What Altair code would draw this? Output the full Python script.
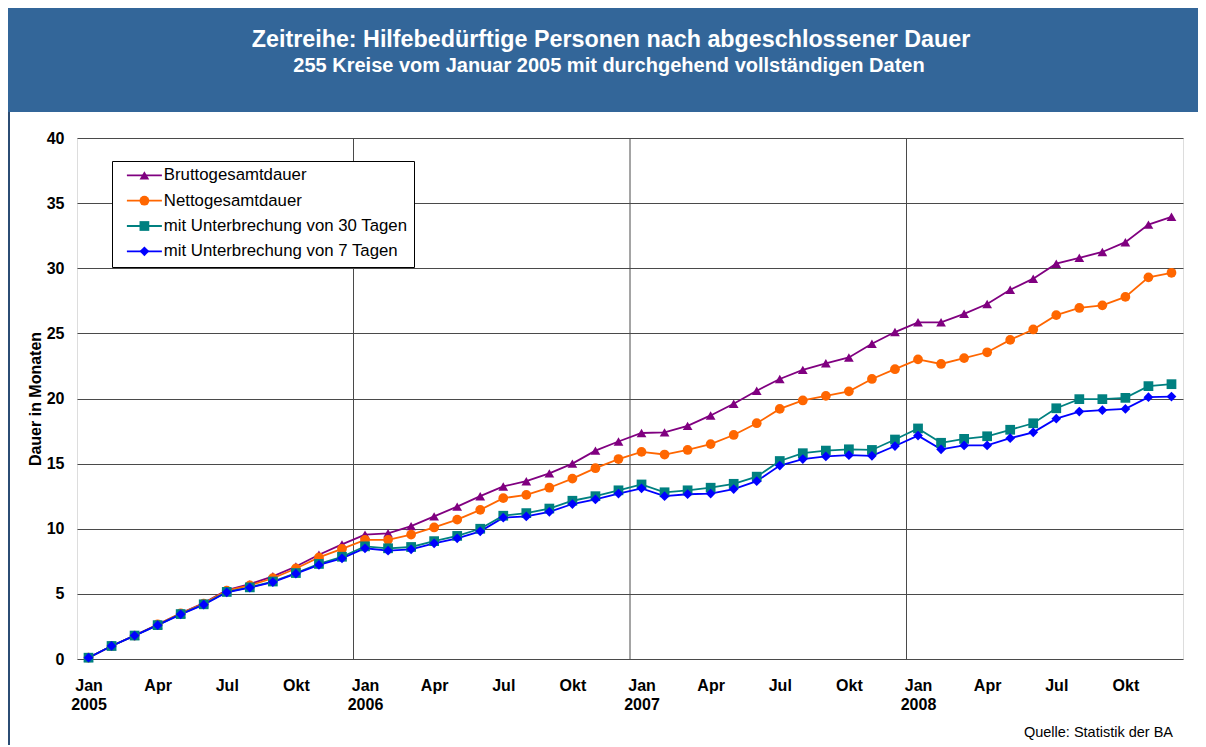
import json
import altair as alt
import pandas as pd

# ---------------- data ----------------
month_names = ["Jan", "Feb", "Mrz", "Apr", "Mai", "Jun", "Jul", "Aug", "Sep", "Okt", "Nov", "Dez"]
years = ["2005", "2006", "2007", "2008"]
series = [
    "Bruttogesamtdauer",
    "Nettogesamtdauer",
    "mit Unterbrechung von 30 Tagen",
    "mit Unterbrechung von 7 Tagen",
]
brutto = [0.1, 1.0, 1.8, 2.65, 3.5, 4.3, 5.3, 5.75, 6.35, 7.1, 8.0, 8.8,
          9.55, 9.65, 10.2, 10.95, 11.7, 12.5, 13.25, 13.65, 14.25, 15.0, 16.0, 16.7,
          17.35, 17.4, 17.9, 18.7, 19.6, 20.6, 21.5, 22.2, 22.7, 23.15, 24.2, 25.1,
          25.85, 25.85, 26.5, 27.25, 28.35, 29.2, 30.35, 30.8, 31.25, 32.0, 33.35, 33.95]
netto = [0.1, 1.0, 1.8, 2.65, 3.5, 4.25, 5.25, 5.65, 6.2, 6.95, 7.8, 8.45,
         9.15, 9.15, 9.55, 10.1, 10.7, 11.45, 12.35, 12.6, 13.15, 13.85, 14.65, 15.35,
         15.9, 15.7, 16.05, 16.5, 17.2, 18.1, 19.2, 19.85, 20.2, 20.55, 21.5, 22.25,
         23.0, 22.65, 23.1, 23.55, 24.5, 25.3, 26.4, 26.95, 27.15, 27.8, 29.3, 29.65]
unterbr30 = [0.1, 1.0, 1.8, 2.6, 3.45, 4.2, 5.15, 5.5, 5.95, 6.6, 7.3, 7.85,
             8.65, 8.5, 8.6, 9.05, 9.45, 10.0, 11.0, 11.2, 11.55, 12.15, 12.5, 12.95,
             13.4, 12.8, 12.95, 13.15, 13.45, 14.0, 15.2, 15.8, 16.0, 16.1, 16.05, 16.85,
             17.7, 16.6, 16.9, 17.1, 17.6, 18.1, 19.25, 19.95, 19.95, 20.05, 20.95, 21.1]
unterbr7 = [0.1, 1.0, 1.8, 2.6, 3.43, 4.17, 5.12, 5.48, 5.91, 6.55, 7.22, 7.73,
            8.5, 8.32, 8.42, 8.88, 9.27, 9.8, 10.85, 10.95, 11.3, 11.9, 12.25, 12.7,
            13.1, 12.5, 12.65, 12.7, 13.05, 13.65, 14.85, 15.35, 15.55, 15.65, 15.6, 16.35,
            17.15, 16.1, 16.4, 16.4, 16.95, 17.4, 18.45, 19.0, 19.1, 19.2, 20.1, 20.15]
y_ticks = [0, 5, 10, 15, 20, 25, 30, 35, 40]
x_label_months = [0, 3, 6, 9, 12, 15, 18, 21, 24, 27, 30, 33, 36, 39, 42, 45]
year_bounds = [11.5, 23.5, 35.5]

title_text = "Zeitreihe: Hilfebedürftige Personen nach abgeschlossener Dauer"
subtitle_text = "255 Kreise vom Januar 2005 mit durchgehend vollständigen Daten"
source_text = "Quelle: Statistik der BA"

# ---------------- styles ----------------
colors = ["#800080", "#FF6600", "#008080", "#0000FF"]
shapes = ["triangle-up", "circle", "square", "diamond"]
FONT = "Liberation Sans"
W, H = 1106, 521
PAD_L, PAD_T = 69, 130
PAD_R = 1190 - PAD_L - W
PAD_B = 737 - PAD_T - H

rows = []
for name, vals in zip(series, [brutto, netto, unterbr30, unterbr7]):
    for i, v in enumerate(vals):
        rows.append({"idx": i, "value": v, "series": name, "series_l": name})
df = pd.DataFrame(rows)

label_expr = (
    f"datum.value % 12 == 0 ? [{json.dumps(month_names)}[datum.value % 12], "
    f"{json.dumps(years)}[floor(datum.value / 12)]] : {json.dumps(month_names)}[datum.value % 12]"
)

x_scale = alt.Scale(domain=[-0.5, 47.5], nice=False, zero=False)
x_axis = alt.Axis(values=x_label_months, labelExpr=label_expr, grid=False, ticks=False,
                  domain=False, title=None, labelFont=FONT, labelFontSize=16,
                  labelFontWeight="bold", labelColor="black", labelPadding=18,
                  labelLineHeight=19, labelOverlap=False, labelFlush=False,
                  labelBaseline="top")
y_scale = alt.Scale(domain=[0, 40], nice=False)
y_axis = alt.Axis(values=y_ticks, grid=True, gridColor="#4a4a4a", gridWidth=1,
                  ticks=False, domain=False, title="Dauer in Monaten",
                  titleFont=FONT, titleFontSize=16, titleFontWeight="bold",
                  titleColor="black", titlePadding=3, labelFont=FONT, labelFontSize=16,
                  labelFontWeight="bold", labelColor="black", labelPadding=13)

one = pd.DataFrame({"a": [0]})

header = alt.Chart(one).mark_rect(color="#336699").encode(
    x=alt.value(-PAD_L), x2=alt.value(W + PAD_R + 10),
    y=alt.value(8 - 138), y2=alt.value(112 - 138))
left_border = alt.Chart(one).mark_rule(color="#2B4C74", strokeWidth=2).encode(
    x=alt.value(-PAD_L + 1), y=alt.value(112 - 138), y2=alt.value(H + PAD_B + 5))
title = alt.Chart(one).mark_text(text=title_text, color="white", font=FONT, fontSize=23.3,
                                 fontWeight="bold", align="center", baseline="middle").encode(
    x=alt.value(611 - 77), y=alt.value(40 - 138))
subtitle = alt.Chart(one).mark_text(text=subtitle_text, color="white", font=FONT, fontSize=20,
                                    fontWeight="bold", align="center", baseline="middle").encode(
    x=alt.value(609 - 77), y=alt.value(66 - 138))
source = alt.Chart(one).mark_text(text=source_text, color="black", font=FONT, fontSize=14.5,
                                  align="right", baseline="middle").encode(
    x=alt.value(1173 - 77), y=alt.value(733 - 138))

vgrid = alt.Chart(pd.DataFrame({"b": year_bounds})).mark_rule(
    color="#4a4a4a", strokeWidth=1).encode(
    x=alt.X("b:Q", scale=x_scale, axis=x_axis))

LEG_X, LEG_Y = 112 - 77, 161 - 138
common_leg = dict(orient="none", legendX=LEG_X, legendY=LEG_Y, title=None,
                  labelFont=FONT, labelFontSize=16.8, labelColor="black",
                  labelLimit=500, padding=6, rowPadding=7.3, labelOffset=11)

lines = alt.Chart(df).mark_line(strokeWidth=1.8).encode(
    x=alt.X("idx:Q", scale=x_scale, axis=x_axis),
    y=alt.Y("value:Q", scale=y_scale, axis=y_axis),
    stroke=alt.Stroke("series_l:N", sort=series,
                      scale=alt.Scale(range=colors),
                      legend=alt.Legend(symbolType="M-3.5,0H3.5", symbolSize=100,
                                        symbolStrokeWidth=1.8, symbolOffset=18,
                                        strokeColor="black",
                                        fillColor="white", zindex=0, **common_leg)),
)

points = alt.Chart(df).mark_point(filled=True, size=95, opacity=1).encode(
    x=alt.X("idx:Q", scale=x_scale, axis=x_axis),
    y=alt.Y("value:Q", scale=y_scale, axis=y_axis),
    color=alt.Color("series:N", sort=series,
                    scale=alt.Scale(domain=series, range=colors),
                    legend=alt.Legend(symbolSize=95, symbolOffset=18,
                                      labelOpacity=0, zindex=1, **common_leg)),
    shape=alt.Shape("series:N", sort=series,
                    scale=alt.Scale(domain=series, range=shapes),
                    legend=alt.Legend(symbolSize=95, symbolOffset=18,
                                      labelOpacity=0, zindex=1, **common_leg)),
)

chart = alt.layer(header, left_border, title, subtitle, source, vgrid, lines, points).properties(
    width=W, height=H,
    autosize=alt.AutoSizeParams(type="none"),
    padding={"left": PAD_L, "top": PAD_T, "right": PAD_R, "bottom": PAD_B},
    background="white",
).configure_view(stroke="black", strokeWidth=1.5).configure(font=FONT)

chart.save("out.html", embed_options={"renderer": "svg", "actions": False})
